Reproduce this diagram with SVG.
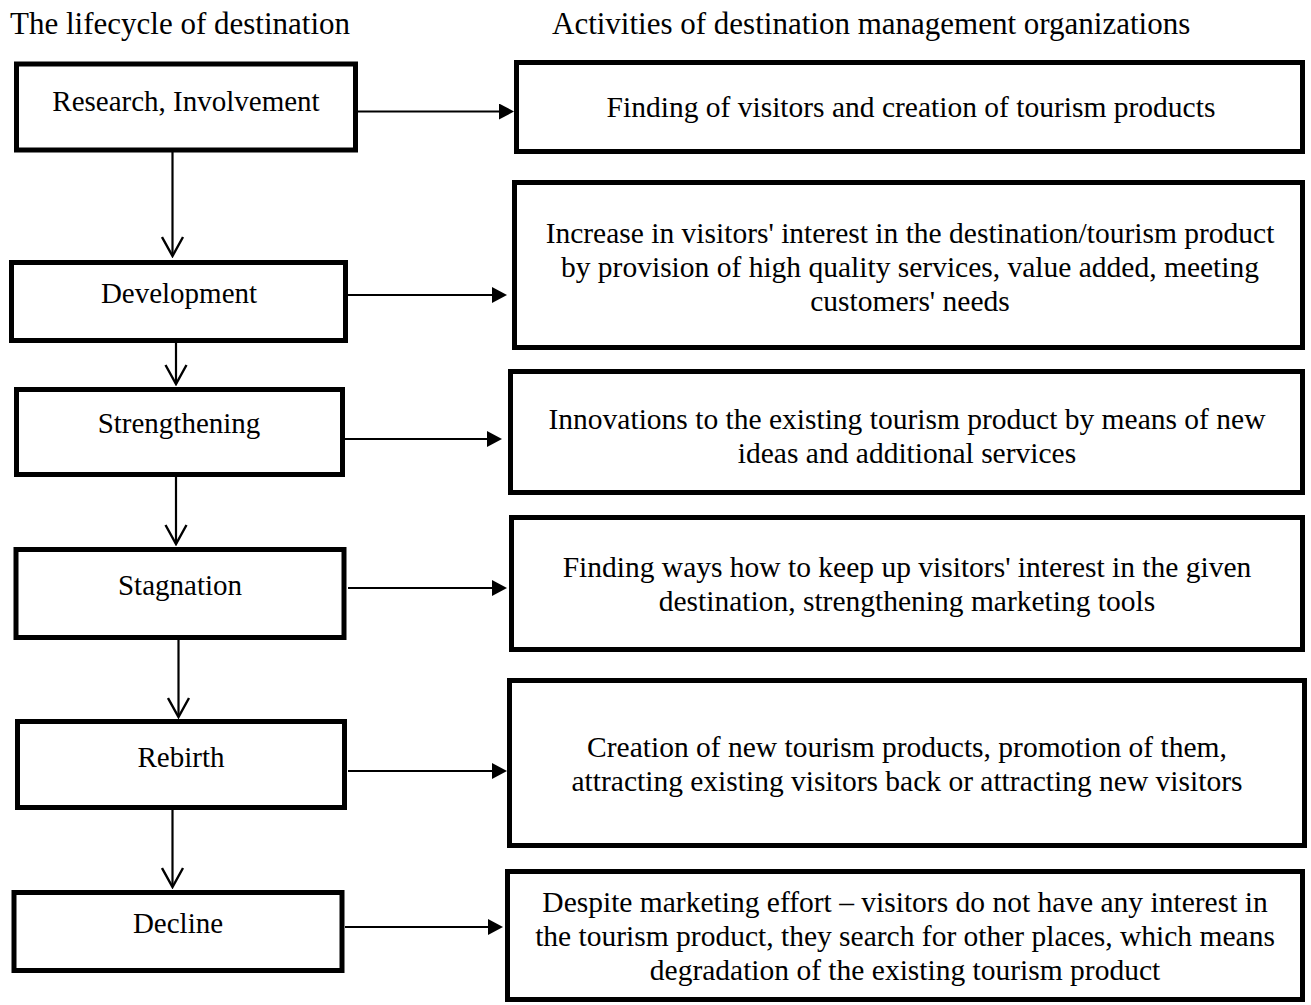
<svg xmlns="http://www.w3.org/2000/svg" width="1311" height="1005" viewBox="0 0 1311 1005">
<defs>
<style>
text{font-family:"Liberation Serif","Times New Roman",serif;fill:#000}
.t{font-size:31px}
.l{font-size:29px;text-anchor:middle}
.r{font-size:29.5px;text-anchor:middle}
.box{fill:#fff;stroke:#000;stroke-width:5}
.c{stroke:#000;stroke-width:2.2;fill:none}
</style>
<marker id="tri" viewBox="0 0 15 16" refX="3" refY="8" markerWidth="15" markerHeight="16" markerUnits="userSpaceOnUse" orient="auto"><path d="M0,0L15,8L0,16z" fill="#000"/></marker>
<marker id="vee" viewBox="0 0 22 24" refX="20" refY="12" markerWidth="22" markerHeight="24" markerUnits="userSpaceOnUse" orient="auto"><path d="M1,1.5L20,12L1,22.5" fill="none" stroke="#000" stroke-width="2.4"/></marker>
</defs>
<text class="t" x="10" y="34">The lifecycle of destination</text>
<text class="t" x="552" y="34">Activities of destination management organizations</text>
<g id="connectors">
<line class="c" x1="172.5" y1="152" x2="172.5" y2="256" marker-end="url(#vee)"/>
<line class="c" x1="176" y1="343" x2="176" y2="384" marker-end="url(#vee)"/>
<line class="c" x1="176" y1="477" x2="176" y2="544" marker-end="url(#vee)"/>
<line class="c" x1="178.5" y1="640" x2="178.5" y2="717" marker-end="url(#vee)"/>
<line class="c" x1="172.5" y1="810" x2="172.5" y2="887" marker-end="url(#vee)"/>
<line class="c" x1="358" y1="111.5" x2="502" y2="111.5" marker-end="url(#tri)"/>
<line class="c" x1="348" y1="295" x2="495" y2="295" marker-end="url(#tri)"/>
<line class="c" x1="345" y1="439" x2="490" y2="439" marker-end="url(#tri)"/>
<line class="c" x1="348" y1="588" x2="495" y2="588" marker-end="url(#tri)"/>
<line class="c" x1="348" y1="771" x2="495" y2="771" marker-end="url(#tri)"/>
<line class="c" x1="345" y1="927" x2="491" y2="927" marker-end="url(#tri)"/>
</g>
<g id="n-research"><rect class="box" x="16.5" y="64" width="339" height="86"/><text class="l" x="186" y="111">Research, Involvement</text></g>
<g id="n-development"><rect class="box" x="11.5" y="262.5" width="334" height="78"/><text class="l" x="179" y="303">Development</text></g>
<g id="n-strengthening"><rect class="box" x="16.5" y="389.5" width="326" height="85"/><text class="l" x="179" y="433">Strengthening</text></g>
<g id="n-stagnation"><rect class="box" x="16" y="549.5" width="328" height="88"/><text class="l" x="180" y="595">Stagnation</text></g>
<g id="n-rebirth"><rect class="box" x="17.5" y="721.5" width="327" height="86"/><text class="l" x="181" y="767">Rebirth</text></g>
<g id="n-decline"><rect class="box" x="14" y="892.5" width="328" height="78"/><text class="l" x="178" y="933">Decline</text></g>
<g id="a-finding"><rect class="box" x="516.5" y="62.5" width="786" height="89"/><text class="r" x="911" y="117">Finding of visitors and creation of tourism products</text></g>
<g id="a-increase"><rect class="box" x="514.5" y="182.5" width="788" height="165"/><text class="r" x="910" y="243">Increase in visitors' interest in the destination/tourism product</text><text class="r" x="910" y="277">by provision of high quality services, value added, meeting</text><text class="r" x="910" y="311">customers' needs</text></g>
<g id="a-innovations"><rect class="box" x="510.5" y="371.5" width="792" height="121"/><text class="r" x="907" y="429">Innovations to the existing tourism product by means of new</text><text class="r" x="907" y="463">ideas and additional services</text></g>
<g id="a-finding-ways"><rect class="box" x="511.5" y="517.5" width="791" height="132"/><text class="r" x="907" y="577">Finding ways how to keep up visitors' interest in the given</text><text class="r" x="907" y="611">destination, strengthening marketing tools</text></g>
<g id="a-creation"><rect class="box" x="509.5" y="680.5" width="795" height="165"/><text class="r" x="907" y="757">Creation of new tourism products, promotion of them,</text><text class="r" x="907" y="791">attracting existing visitors back or attracting new visitors</text></g>
<g id="a-despite"><rect class="box" x="507.5" y="871.5" width="795" height="128"/><text class="r" x="905" y="912">Despite marketing effort – visitors do not have any interest in</text><text class="r" x="905" y="946">the tourism product, they search for other places, which means</text><text class="r" x="905" y="980">degradation of the existing tourism product</text></g>
</svg>
